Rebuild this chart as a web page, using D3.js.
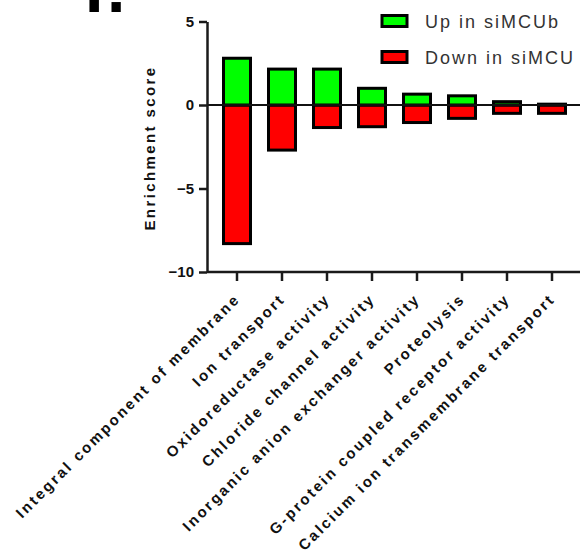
<!DOCTYPE html>
<html>
<head>
<meta charset="utf-8">
<script src="https://cdn.jsdelivr.net/npm/d3@7"></script>
<style>
  body { margin: 0; background: #fff; }
  svg { display: block; font-family: Arial, "Liberation Sans", sans-serif; }
</style>
</head>
<body>
<div id="chart"></div>
<script>

// data
var categories = [
      "Integral component of membrane",
      "Ion transport",
      "Oxidoreductase activity",
      "Chloride channel activity",
      "Inorganic anion exchanger activity",
      "Proteolysis",
      "G-protein coupled receptor activity",
      "Calcium ion transmembrane transport"
    ],
    upValues   = [2.8, 2.15, 2.15, 1.0, 0.65, 0.55, 0.2, 0.05],
    downValues = [-8.3, -2.7, -1.35, -1.3, -1.05, -0.8, -0.5, -0.5],
    yTicks = [-10, -5, 0, 5],
    seriesNames = ["Up in siMCUb", "Down in siMCU"],
    seriesColors = ["#00ff00", "#ff0000"];

var width = 582,
    height = 555,
    axisX = 207,
    axisRight = 580;

var svg = d3.select("#chart").append("svg")
    .attr("width", width)
    .attr("height", height);

// scales
var x = d3.scaleBand()
    .domain(categories)
    .range([214.5, 574.5])
    .paddingInner(0.4)
    .paddingOuter(0.2);

var y = d3.scaleLinear()
    .domain([-10, 5])
    .range([272, 21.5]);

// panel letter, cut off at the top
svg.append("text")
    .attr("x", 85)
    .attr("y", 12)
    .style("font-size", "66px")
    .style("font-weight", "bold")
    .style("letter-spacing", "-11px")
    .text("F.");

// bars
var barStroke = 3;

svg.selectAll(".bar-down")
    .data(downValues)
    .enter().append("rect")
    .attr("class", "bar-down")
    .attr("x", function (d, i) { return x(categories[i]); })
    .attr("width", x.bandwidth())
    .attr("y", y(0))
    .attr("height", function (d) { return y(d) - y(0); })
    .attr("fill", seriesColors[1])
    .attr("stroke", "#000")
    .attr("stroke-width", barStroke);

svg.selectAll(".bar-up")
    .data(upValues)
    .enter().append("rect")
    .attr("class", "bar-up")
    .attr("x", function (d, i) { return x(categories[i]); })
    .attr("width", x.bandwidth())
    .attr("y", function (d) { return y(d); })
    .attr("height", function (d) { return y(0) - y(d); })
    .attr("fill", seriesColors[0])
    .attr("stroke", "#000")
    .attr("stroke-width", barStroke);

// zero line
svg.append("line")
    .attr("x1", axisX)
    .attr("x2", axisRight)
    .attr("y1", y(0))
    .attr("y2", y(0))
    .attr("stroke", "#111")
    .attr("stroke-width", 2);

// y axis
var yAxis = d3.axisLeft(y)
    .tickValues(yTicks)
    .tickSize(8)
    .tickSizeOuter(0)
    .tickPadding(5);

var gy = svg.append("g")
    .attr("transform", "translate(" + axisX + ",0)")
    .call(yAxis);

gy.selectAll("path, line")
    .attr("stroke", "#1a1a1a")
    .attr("stroke-width", 2.5);
gy.selectAll("text")
    .attr("fill", "#111")
    .style("font-size", "15px")
    .style("font-weight", "bold")
    .style("font-family", "Arial, 'Liberation Sans', sans-serif");

// x axis
var xAxis = d3.axisBottom(x)
    .tickSize(9)
    .tickSizeOuter(0)
    .tickFormat("");

var gx = svg.append("g")
    .attr("transform", "translate(0," + y(-10) + ")")
    .call(xAxis);
gx.select(".domain").remove();
gx.selectAll("line")
    .attr("stroke", "#1a1a1a")
    .attr("stroke-width", 2.5);

svg.append("line")
    .attr("x1", axisX)
    .attr("x2", axisRight)
    .attr("y1", y(-10))
    .attr("y2", y(-10))
    .attr("stroke", "#1a1a1a")
    .attr("stroke-width", 2.5);

// rotated category labels
svg.selectAll(".xlabel")
    .data(categories)
    .enter().append("text")
    .attr("class", "xlabel")
    .attr("transform", function (d) {
        return "translate(" + (x(d) + x.bandwidth() / 2 + 4) + ",300) rotate(-45)";
    })
    .style("text-anchor", "end")
    .style("font-size", "15px")
    .style("font-weight", "bold")
    .style("letter-spacing", "2.4px")
    .attr("fill", "#111")
    .text(function (d) { return d; });

// y axis title
svg.append("text")
    .attr("transform", "translate(155,148) rotate(-90)")
    .style("text-anchor", "middle")
    .style("font-size", "15px")
    .style("font-weight", "bold")
    .style("letter-spacing", "2.4px")
    .attr("fill", "#111")
    .text("Enrichment score");

// legend
var legend = svg.selectAll(".legend")
    .data(seriesNames)
    .enter().append("g")
    .attr("class", "legend")
    .attr("transform", function (d, i) { return "translate(382," + (15.5 + i * 36) + ")"; });

legend.append("rect")
    .attr("width", 25)
    .attr("height", 11)
    .attr("fill", function (d, i) { return seriesColors[i]; })
    .attr("stroke", "#000")
    .attr("stroke-width", barStroke);

legend.append("text")
    .attr("x", 43)
    .attr("y", 12.5)
    .style("font-size", "18px")
    .style("letter-spacing", "2px")
    .attr("fill", "#333")
    .text(function (d) { return d; });

</script>
</body>
</html>
